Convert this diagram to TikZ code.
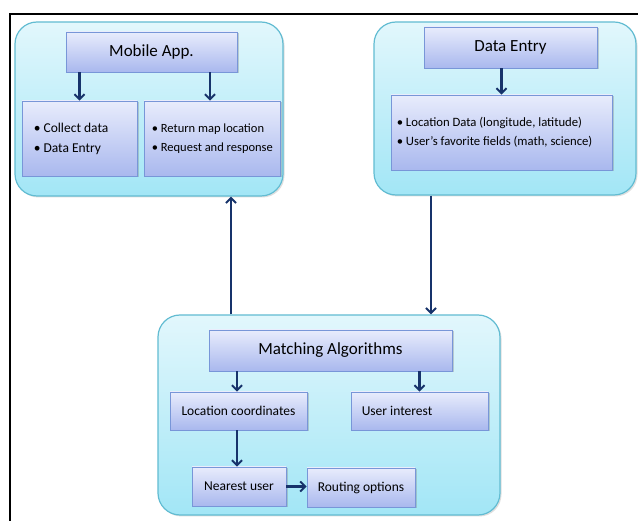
\documentclass[tikz,border=0pt]{standalone}
\usepackage{fontspec}
\setmainfont{Carlito}
\usetikzlibrary{arrows.meta,shadows}
\definecolor{contTop}{HTML}{E2F7FC}
\definecolor{contBot}{HTML}{A2E6F6}
\definecolor{contLine}{HTML}{62BCD2}
\definecolor{boxTop}{HTML}{E8ECFC}
\definecolor{boxBot}{HTML}{A9B8EE}
\definecolor{boxLine}{HTML}{7896D8}
\definecolor{arrowCol}{HTML}{17336B}
\tikzset{
  container/.style={draw=contLine, line width=1.2pt, rounded corners=22pt,
    top color=contTop, bottom color=contBot, inner sep=0pt,
    drop shadow={shadow xshift=1.5pt, shadow yshift=-1.5pt, opacity=0.25, fill=gray}},
  stepbox/.style={draw=boxLine, line width=0.8pt, top color=boxTop, bottom color=boxBot,
    inner sep=0pt, text=black,
    drop shadow={shadow xshift=1.5pt, shadow yshift=-1.5pt, opacity=0.35, fill=gray}},
  titlefont/.style={font=\fontsize{17}{20}\selectfont},
  smallfont/.style={font=\fontsize{13.5}{16}\selectfont},
  arr/.style={draw=arrowCol, line width=2.2pt,
    -{Straight Barb[length=5pt,width=10pt,line width=2pt]}}
}
\begin{document}
\begin{tikzpicture}[x=1pt,y=-1pt]
\useasboundingbox (0,0) rectangle (638,521);
\fill[white] (0,0) rectangle (638,521);
% frame
\draw[line width=2pt] (10,521) -- (10,14) -- (638,14);

% containers
\node[container, minimum width=268pt, minimum height=174pt] (mc) at (149,109) {};
\node[container, minimum width=262pt, minimum height=173pt] (dc) at (505,108.5) {};
\node[container, minimum width=342pt, minimum height=200pt] (ac) at (329,415) {};

% Mobile App
\node[stepbox, titlefont, minimum width=171pt, minimum height=40pt] (mtitle) at (151.5,52) {Mobile App.};
\node[stepbox, minimum width=115pt, minimum height=75pt] (mleft) at (79.5,138.5) {};
\node[stepbox, minimum width=136pt, minimum height=75pt] (mright) at (212,138.5) {};
\node[anchor=west, align=left, inner sep=0pt, font=\fontsize{13.5}{20}\selectfont] (mlt) at ([xshift=12pt]mleft.west)
  {\textbullet\ Collect data\\ \textbullet\ Data Entry};
\node[anchor=west, align=left, inner sep=0pt, font=\fontsize{12.5}{19}\selectfont] (mrt) at ([xshift=8pt]mright.west)
  {\textbullet\ Return map location\\ \textbullet\ Request and response};

% Data Entry
\node[stepbox, titlefont, minimum width=173pt, minimum height=41pt] (dtitle) at (510.5,47.5) {Data Entry};
\node[stepbox, minimum width=221pt, minimum height=75pt] (dcont) at (501.5,132.5) {};
\node[anchor=west, align=left, inner sep=0pt, font=\fontsize{12.7}{19}\selectfont] (dct) at ([xshift=6pt]dcont.west)
  {\textbullet\ Location Data (longitude, latitude)\\ \textbullet\ User's favorite fields (math, science)};

% Matching
\node[stepbox, titlefont, minimum width=243pt, minimum height=41pt] (malg) at (330.5,350.5) {Matching Algorithms};
\node[stepbox, smallfont, minimum width=137pt, minimum height=38pt] (loc) at (238.5,411) {Location coordinates};
\node[stepbox, minimum width=137pt, minimum height=38pt] (ui) at (419.5,411) {};
\node[smallfont, anchor=west, inner sep=0pt] (uit) at ([xshift=11pt]ui.west) {User interest};
\node[stepbox, smallfont, minimum width=94pt, minimum height=39pt] (near) at (239,486.5) {Nearest user};
\node[stepbox, smallfont, minimum width=108pt, minimum height=39pt] (route) at (361,487.5) {Routing options};

% arrows inside
\draw[arr] (mtitle.south -| mleft.north) -- (mleft.north);
\draw[arr] ([xshift=-2pt]mtitle.south -| mright.north) -- ([xshift=-2pt]mright.north);
\draw[arr] (dtitle.south -| dcont.north) -- (dcont.north);
\draw[arr] ([xshift=-1.5pt]malg.south -| loc.north) -- ([xshift=-1.5pt]loc.north);
\draw[arr] (malg.south -| ui.north) -- (ui.north);
\draw[arr] ([xshift=-1.5pt]loc.south) -- ([xshift=-1.5pt]loc.south |- near.north);
\draw[arr] (near.east) -- (near.east -| route.west);

% arrows between containers
\draw[arr] ([xshift=-74pt]dc.south) -- ([xshift=-74pt]dc.south |- ac.north);
\draw[arr] ([xshift=-98pt]ac.north) -- ([xshift=-98pt]ac.north |- mc.south);
\end{tikzpicture}
\end{document}
